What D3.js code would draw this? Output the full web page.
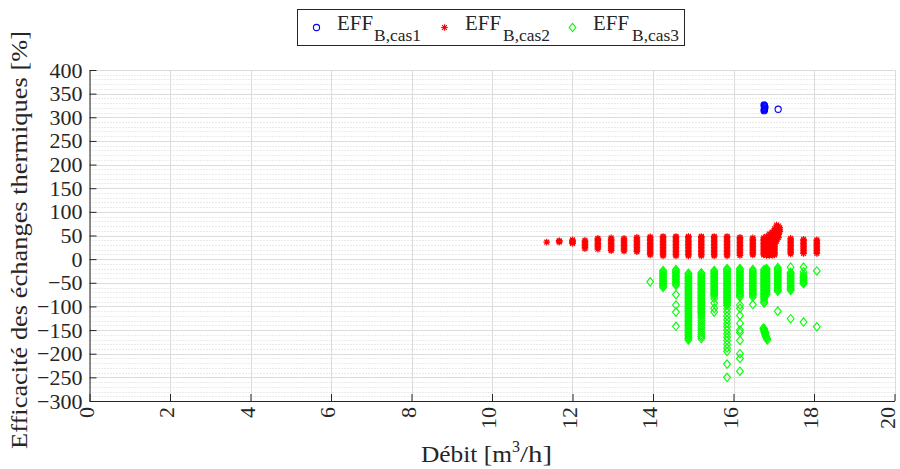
<!DOCTYPE html>
<html>
<head>
<meta charset="utf-8">
<script src="https://cdn.jsdelivr.net/npm/d3@7"></script>
<style>
  html, body { margin: 0; padding: 0; background: #ffffff; }
  svg { display: block; }
  text { font-family: "Liberation Serif", "DejaVu Serif", serif; fill: #262626; }
</style>
</head>
<body>
<svg id="chart" width="900" height="469"></svg>
<script>
// ---------------- DATA ----------------
const xTicks = [0, 2, 4, 6, 8, 10, 12, 14, 16, 18, 20];
const yTicks = [-300, -250, -200, -150, -100, -50, 0, 50, 100, 150, 200, 250, 300, 350, 400];
const seriesNames = ["B,cas1", "B,cas2", "B,cas3"];

// EFF B,cas1 (blue circles) : points
const cas1X = [16.76, 16.77, 16.77, 16.77, 16.77, 16.78, 16.77, 16.77, 16.76, 17.11];
const cas1Y = [314, 315.5, 317, 318.5, 320, 321.5, 323, 324.5, 326, 317];

// EFF B,cas2 (red asterisks) : columns of values at each flow rate
const cas2ColX = [11.36, 11.67, 12.0, 12.31, 12.63, 12.96, 13.28, 13.6, 13.93, 14.25, 14.57, 14.88, 15.2, 15.52, 15.84, 16.16, 16.48, 17.42, 17.74, 18.07];
const cas2ColY = [
  [36],
  [36, 38, 39],
  [33, 35, 37, 39, 41],
  [22, 25, 28, 31, 34, 37, 40],
  [21, 24, 27, 30, 33, 36, 39, 42, 44],
  [18, 21, 24, 27, 30, 33, 36, 39, 42, 45],
  [17, 20, 23, 26, 29, 32, 35, 38, 41, 44],
  [16, 19, 22, 25, 28, 31, 34, 37, 40, 43, 46],
  [9, 12, 15, 18, 21, 24, 27, 30, 33, 36, 39, 42, 45, 47],
  [7, 10, 13, 16, 19, 22, 25, 28, 31, 34, 37, 40, 43, 46, 48],
  [7, 10, 13, 16, 19, 22, 25, 28, 31, 34, 37, 40, 43, 46, 48],
  [7, 10, 13, 16, 19, 22, 25, 28, 31, 34, 37, 40, 43, 46, 48],
  [7, 10, 13, 16, 19, 22, 25, 28, 31, 34, 37, 40, 43, 46, 48],
  [7, 10, 13, 16, 19, 22, 25, 28, 31, 34, 37, 40, 43, 46, 48],
  [7, 10, 13, 16, 19, 22, 25, 28, 31, 34, 37, 40, 43, 46, 48],
  [8, 11, 14, 17, 20, 23, 26, 29, 32, 35, 38, 41, 44, 46],
  [9, 12, 15, 18, 21, 24, 27, 30, 33, 36, 39, 42, 45],
  [11, 14, 17, 20, 23, 26, 29, 32, 35, 38, 41, 44],
  [12, 15, 18, 21, 24, 27, 30, 33, 36, 39, 42],
  [12, 15, 18, 21, 24, 27, 30, 33, 36, 39, 41]
];
// cas2 cluster near 16.75 - 17.15 m3/h (x, y pairs)
const cas2ClusterX = [16.75, 16.75, 16.75, 16.75, 16.75, 16.75, 16.75, 16.75, 16.75, 16.75, 16.75, 16.75, 16.75,
  16.82, 16.82, 16.82, 16.82, 16.82, 16.82, 16.82, 16.82, 16.82, 16.82, 16.82, 16.82, 16.82, 16.82,
  16.89, 16.89, 16.89, 16.89, 16.89, 16.89, 16.89, 16.89, 16.89, 16.89, 16.89, 16.89, 16.89, 16.89, 16.89,
  16.96, 16.96, 16.96, 16.96, 16.96, 16.96, 16.96, 16.96, 16.96, 16.96, 16.96, 16.96, 16.96, 16.96, 16.96, 16.96,
  17.02, 17.02, 17.02, 17.02, 17.02, 17.02, 17.02, 17.02, 17.02, 17.02, 17.02, 17.02, 17.02, 17.02, 17.02, 17.02, 17.02, 17.02,
  17.07, 17.07, 17.07, 17.07, 17.07, 17.07, 17.07, 17.07, 17.07, 17.07, 17.07,
  17.12, 17.12, 17.12, 17.12, 17.12, 17.15, 17.15, 17.15];
const cas2ClusterY = [9, 12, 15, 18, 21, 24, 27, 30, 33, 36, 39, 42, 45,
  8, 11, 14, 17, 20, 23, 26, 29, 32, 35, 38, 41, 44, 48,
  8, 11, 14, 17, 20, 23, 26, 29, 32, 35, 38, 41, 44, 48, 53,
  8, 11, 14, 17, 20, 23, 26, 29, 32, 35, 38, 41, 44, 48, 52, 57,
  9, 12, 15, 18, 21, 24, 27, 30, 33, 36, 39, 42, 45, 48, 52, 56, 60, 64,
  38, 41, 44, 47, 50, 53, 56, 60, 64, 68, 72,
  46, 52, 58, 64, 70, 58, 62, 66];

// EFF B,cas3 (green diamonds) : columns of values at each flow rate
const cas3ColX = [13.93, 14.25, 14.57, 14.88, 15.2, 15.52, 15.84, 16.16, 16.48, 16.76, 16.82, 17.1, 17.42, 17.74, 18.07];
const cas3ColY = [
  [-48],
  [-24, -27, -30, -33, -36, -39, -42, -45, -48, -51, -54, -57, -60],
  [-22, -25, -28, -31, -34, -37, -40, -43, -46, -49, -52, -55, -75, -97, -112, -142],
  [-30, -33, -36, -39, -42, -45, -48, -51, -54, -57, -60, -63, -66, -69, -72, -75, -78, -81, -84, -87, -90, -93, -96, -99, -102, -105, -108, -111, -114, -117, -120, -123, -126, -129, -132, -135, -138, -141, -144, -147, -150, -153, -156, -159, -162, -165, -168, -171],
  [-29, -32, -35, -38, -41, -44, -47, -50, -53, -56, -59, -62, -65, -68, -71, -74, -77, -80, -83, -86, -89, -92, -95, -98, -101, -104, -107, -110, -113, -116, -120, -125, -130, -135, -140, -145, -150, -155, -160, -164, -168],
  [-24, -27, -30, -33, -36, -39, -42, -45, -48, -51, -54, -57, -60, -63, -66, -69, -72, -75, -78, -83, -93, -104, -112],
  [-20, -23, -26, -29, -32, -35, -38, -41, -44, -47, -50, -53, -56, -59, -62, -65, -68, -71, -74, -77, -80, -83, -86, -89, -92, -95, -98, -105, -112, -120, -128, -136, -143, -150, -158, -165, -172, -180, -188, -195, -222, -250],
  [-20, -23, -26, -29, -32, -35, -38, -41, -44, -47, -50, -53, -56, -59, -62, -65, -68, -71, -74, -77, -80, -97, -104, -119, -136, -150, -155, -172, -200, -210, -237],
  [-22, -25, -28, -31, -34, -37, -40, -43, -46, -49, -52, -55, -58, -61, -64, -67, -70, -73, -76, -80, -96],
  [-22, -25, -28, -31, -34, -37, -40, -43, -46, -49, -52, -55, -58, -61, -64, -67, -70, -73, -76, -79, -82, -86, -90, -93],
  [-20, -23, -26, -29, -32, -35, -38, -41, -44, -47, -50, -53, -56, -59, -62, -65, -68, -71, -75],
  [-18, -21, -24, -27, -30, -33, -36, -39, -42, -45, -48, -51, -54, -57, -60, -63, -66, -68, -110],
  [-17, -28, -31, -34, -37, -40, -43, -46, -49, -52, -55, -58, -61, -64, -66, -126],
  [-17, -27, -33, -36, -39, -42, -45, -48, -50, -52, -133],
  [-25, -143]
];
// cas3 isolated blob near 16.8 m3/h (x, y pairs)
const cas3BlobX = [16.74, 16.75, 16.76, 16.77, 16.78, 16.79, 16.8, 16.81, 16.82, 16.83, 16.84, 16.76, 16.8];
const cas3BlobY = [-146, -149, -152, -155, -158, -160, -162, -164, -166, -168, -171, -147, -155];

// ---------------- CHART ----------------
const svg = d3.select("#chart");
const mLeft = 89.5, mRight = 894.5, mTop = 70, mBottom = 401;

const x = d3.scaleLinear().domain([0, 20]).range([mLeft, mRight]);
const y = d3.scaleLinear().domain([-300, 400]).range([mBottom, mTop]);

const blue = "#0000ff", red = "#ff0000", green = "#00ff00";

// minor grid (y every 10)
const minorY = d3.range(-300, 401, 10).filter(v => v % 50 !== 0);
svg.append("g").selectAll("line").data(minorY).join("line")
  .attr("x1", mLeft).attr("x2", mRight)
  .attr("y1", d => Math.round(y(d)) + 0.5).attr("y2", d => Math.round(y(d)) + 0.5)
  .attr("stroke", "#d6d6d6").attr("stroke-width", 1).attr("stroke-dasharray", "1,2");

// major grid
svg.append("g").selectAll("line").data(yTicks).join("line")
  .attr("x1", mLeft).attr("x2", mRight)
  .attr("y1", d => Math.round(y(d)) + 0.5).attr("y2", d => Math.round(y(d)) + 0.5)
  .attr("stroke", "#dcdcdc").attr("stroke-width", 1);
svg.append("g").selectAll("line").data(xTicks).join("line")
  .attr("y1", mTop).attr("y2", mBottom)
  .attr("x1", d => Math.round(x(d)) + 0.5).attr("x2", d => Math.round(x(d)) + 0.5)
  .attr("stroke", "#dcdcdc").attr("stroke-width", 1);

// axes
const yAxis = d3.axisLeft(y).tickValues(yTicks).tickSizeInner(-7).tickSizeOuter(0).tickPadding(7);
const gy = svg.append("g").attr("transform", `translate(${mLeft},0)`).call(yAxis);
gy.select(".domain").attr("stroke", "#262626");
gy.selectAll(".tick line").attr("stroke", "#262626");
gy.selectAll("text").attr("font-size", 22).attr("fill", "#262626")
  .attr("font-family", "Liberation Serif, serif");

const xAxis = d3.axisBottom(x).tickValues(xTicks).tickSizeInner(-7).tickSizeOuter(0);
const gx = svg.append("g").attr("transform", `translate(0,${mBottom})`).call(xAxis);
gx.select(".domain").attr("stroke", "#262626");
gx.selectAll(".tick line").attr("stroke", "#262626");
gx.selectAll("text").attr("font-size", 22).attr("fill", "#262626")
  .attr("font-family", "Liberation Serif, serif")
  .attr("transform", "rotate(-90)")
  .attr("text-anchor", "end")
  .attr("x", -6).attr("y", 0)
  .attr("dy", d => d === 20 ? "-0.02em" : "0.17em");

// markers
function asterisk(g, cx, cy, color) {
  const s = 3.3, d = 2.4;
  const p = `M${cx - s},${cy}L${cx + s},${cy}M${cx},${cy - s}L${cx},${cy + s}` +
    `M${cx - d},${cy - d}L${cx + d},${cy + d}M${cx - d},${cy + d}L${cx + d},${cy - d}`;
  g.append("path").attr("d", p).attr("stroke", color).attr("stroke-width", 1.2).attr("fill", "none");
}
function diamond(g, cx, cy, color) {
  const w = 3.4, h = 4.2;
  g.append("path").attr("d", `M${cx},${cy - h}L${cx + w},${cy}L${cx},${cy + h}L${cx - w},${cy}Z`)
    .attr("stroke", color).attr("stroke-width", 1.1).attr("fill", "none");
}
function circle(g, cx, cy, color) {
  g.append("circle").attr("cx", cx).attr("cy", cy).attr("r", 3.1)
    .attr("stroke", color).attr("stroke-width", 1.1).attr("fill", "none");
}

const plot = svg.append("g");
// cas3 (green)
const g3 = plot.append("g");
cas3ColX.forEach((cx, i) => cas3ColY[i].forEach(v => diamond(g3, x(cx), y(v), green)));
cas3BlobX.forEach((cx, i) => diamond(g3, x(cx), y(cas3BlobY[i]), green));
// cas2 (red)
const g2 = plot.append("g");
cas2ColX.forEach((cx, i) => cas2ColY[i].forEach(v => asterisk(g2, x(cx), y(v), red)));
cas2ClusterX.forEach((cx, i) => asterisk(g2, x(cx), y(cas2ClusterY[i]), red));
// cas1 (blue)
const g1 = plot.append("g");
cas1X.forEach((cx, i) => circle(g1, x(cx), y(cas1Y[i]), blue));

// axis titles
svg.append("text")
  .attr("transform", `translate(27,240) rotate(-90)`)
  .attr("text-anchor", "middle").attr("font-size", 23)
  .attr("textLength", 418).attr("lengthAdjust", "spacingAndGlyphs")
  .text("Efficacité des échanges thermiques [%]");

const xt = svg.append("text").attr("x", 421).attr("y", 462).attr("font-size", 23);
xt.append("tspan").attr("textLength", 91).attr("lengthAdjust", "spacingAndGlyphs").text("Débit [m");
xt.append("tspan").attr("dy", -10).attr("font-size", 16).text("3");
xt.append("tspan").attr("dy", 10).attr("textLength", 32).attr("lengthAdjust", "spacingAndGlyphs").text("/h]");

// legend
const lg = svg.append("g");
lg.append("rect").attr("x", 297.5).attr("y", 9.5).attr("width", 387).attr("height", 36)
  .attr("fill", "#ffffff").attr("stroke", "#262626").attr("stroke-width", 1);
const legendItems = [
  { mx: 316.5, tx: 337, sx: 374, color: blue, kind: "circle" },
  { mx: 444.5, tx: 465, sx: 503, color: red, kind: "asterisk" },
  { mx: 572.5, tx: 593, sx: 632, color: green, kind: "diamond" }
];
legendItems.forEach((it, i) => {
  if (it.kind === "circle") circle(lg, it.mx, 27.5, it.color);
  else if (it.kind === "asterisk") asterisk(lg, it.mx, 27.5, it.color);
  else diamond(lg, it.mx, 27.5, it.color);
  lg.append("text").attr("x", it.tx).attr("y", 30).attr("font-size", 20)
    .attr("textLength", 36).attr("lengthAdjust", "spacingAndGlyphs").text("EFF");
  lg.append("text").attr("x", it.sx).attr("y", 40.5).attr("font-size", 16)
    .attr("textLength", 47).attr("lengthAdjust", "spacingAndGlyphs").text(seriesNames[i]);
});
</script>
</body>
</html>
